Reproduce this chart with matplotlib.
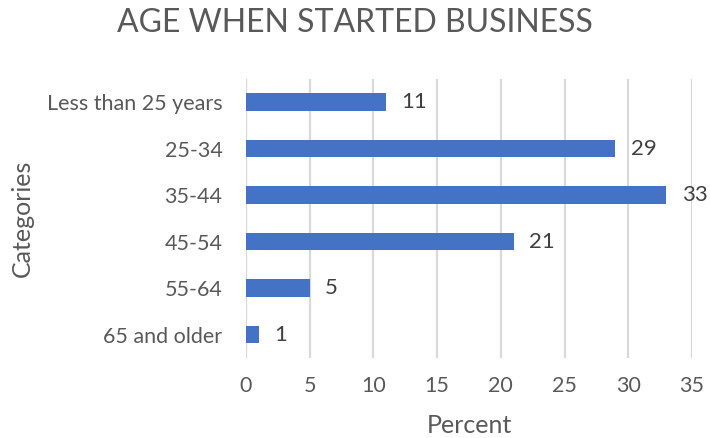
import matplotlib
matplotlib.use("Agg")
import matplotlib.pyplot as plt

categories = ["Less than 25 years", "25-34", "35-44", "45-54", "55-64", "65 and older"]
percent = [11, 29, 33, 21, 5, 1]
x_ticks = [0, 5, 10, 15, 20, 25, 30, 35]

title = "AGE WHEN STARTED BUSINESS"
x_label = "Percent"
y_label = "Categories"

BAR = "#4472C4"
GREY = "#595959"
GRID = "#D9D9D9"

plt.rcParams["font.family"] = ["Lato", "DejaVu Sans"]

fig = plt.figure(figsize=(7.10, 4.38), dpi=100)
ax = fig.add_axes([0.3465, 0.183, 0.628, 0.637])

ypos = list(range(len(categories)))
ax.barh(ypos, percent, height=0.37, color=BAR, zorder=3)
ax.set_ylim(len(categories) - 0.5, -0.5)
ax.set_xlim(0, 35)

ax.set_yticks(ypos)
ax.set_yticklabels(categories, fontsize=15.5, color=GREY)
ax.set_xticks(x_ticks)
ax.set_xticklabels([str(t) for t in x_ticks], fontsize=15.5, color=GREY)
ax.tick_params(axis="both", length=0)
ax.tick_params(axis="y", pad=17)
ax.tick_params(axis="x", pad=13)

ax.grid(axis="x", color=GRID, linewidth=1.6, zorder=0)
for s in ax.spines.values():
    s.set_visible(False)

for y, v in zip(ypos, percent):
    ax.annotate(str(v), (v, y), xytext=(11, 0), textcoords="offset points",
                va="center", ha="left", fontsize=16, color="#404040")

ax.set_xlabel(x_label, fontsize=18, color=GREY, labelpad=13)
ax.set_ylabel(y_label, fontsize=18, color=GREY, labelpad=9)

fig.text(0.5, 0.948, title, ha="center", va="center", fontsize=23, color=GREY)

fig.savefig("out.png", dpi=100)
